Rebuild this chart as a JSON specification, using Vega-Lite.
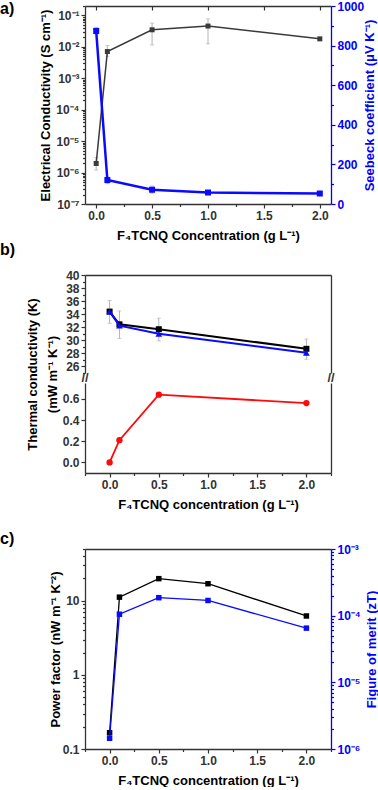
{
  "$schema": "https://vega.github.io/schema/vega-lite/v6.json",
  "background": "white",
  "padding": {"left": 0, "top": 0, "right": 0, "bottom": 0},
  "config": {
    "font": "Liberation Sans",
    "view": {"stroke": null},
    "axis": {
      "grid": false,
      "labelFont": "Liberation Sans",
      "labelFontWeight": "bold",
      "labelFontSize": 12,
      "labelColor": "#333333",
      "titleFont": "Liberation Sans",
      "titleFontWeight": "bold",
      "titleFontSize": 13,
      "titleColor": "#000000",
      "domainColor": "#333333",
      "domainWidth": 1.3,
      "tickColor": "#333333",
      "tickWidth": 1.2,
      "tickSize": 4,
      "labelPadding": 2
    },
    "title": {"font": "Liberation Sans", "fontWeight": "bold", "fontSize": 16, "color": "#000000"}
  },
  "datasets": {
    "a": [
      {"conc": 0.0, "sig": 1.95e-6, "sig_lo": 1.2e-6, "sig_hi": 3.0e-6, "S": 874, "S_lo": 858, "S_hi": 892},
      {"conc": 0.1, "sig": 7.1e-3, "sig_lo": 5.0e-3, "sig_hi": 1.1e-2, "S": 121, "S_lo": 103, "S_hi": 135},
      {"conc": 0.5, "sig": 0.035, "sig_lo": 0.0115, "sig_hi": 0.057, "S": 72, "S_lo": 55, "S_hi": 90},
      {"conc": 1.0, "sig": 0.046, "sig_lo": 0.0125, "sig_hi": 0.078, "S": 58, "S_lo": 54, "S_hi": 62},
      {"conc": 2.0, "sig": 0.018, "sig_lo": 0.0165, "sig_hi": 0.0195, "S": 53, "S_lo": 50, "S_hi": 56}
    ],
    "b": [
      {"conc": 0.0, "k_black": 34.4, "k_blue": 34.4, "k_lo": 32.6, "k_hi": 36.1, "red": 0.0},
      {"conc": 0.1, "k_black": 32.45, "k_blue": 32.25, "k_lo": 30.3, "k_hi": 34.5, "red": 0.21},
      {"conc": 0.5, "k_black": 31.7, "k_blue": 31.0, "k_lo": 29.9, "k_hi": 33.4, "red": 0.64},
      {"conc": 2.0, "k_black": 28.7, "k_blue": 28.1, "k_lo": 27.1, "k_hi": 30.2, "red": 0.56}
    ],
    "c": [
      {"conc": 0.0, "PF": 0.166, "zT": 1.45e-6},
      {"conc": 0.1, "PF": 11.2, "zT": 1.05e-4},
      {"conc": 0.5, "PF": 19.9, "zT": 1.86e-4},
      {"conc": 1.0, "PF": 17.0, "zT": 1.69e-4},
      {"conc": 2.0, "PF": 6.24, "zT": 6.5e-5}
    ]
  },
  "spacing": 10,
  "bounds": "flush",
  "vconcat": [
    {
      "width": 246,
      "height": 259,
      "data": {"name": "a"},
      "title": {"text": "a)", "anchor": "start", "frame": "group", "offset": -17, "dx": -85},
      "layer": [
        {
          "mark": {"type": "errorbar", "color": "#b4b4b4", "ticks": {"size": 4}},
          "encoding": {
            "x": {"field": "conc", "type": "quantitative", "scale": {"domain": [-0.1, 2.1], "nice": false, "zero": false}, "axis": null},
            "y": {"field": "sig_lo", "type": "quantitative", "scale": {"type": "log", "domain": [1e-7, 0.2], "nice": false, "range": [198, 0]}, "axis": null},
            "y2": {"field": "sig_hi"}
          }
        },
        {
          "mark": {"type": "line", "color": "#3a3a3a", "strokeWidth": 1.5},
          "encoding": {
            "x": {"field": "conc", "type": "quantitative", "scale": {"domain": [-0.1, 2.1], "nice": false, "zero": false},
              "axis": {"orient": "bottom", "offset": -61, "values": [0, 0.5, 1, 1.5, 2], "format": ".1f", "title": "F₄TCNQ Concentration (g L⁻¹)", "titlePadding": 8}},
            "y": {"field": "sig", "type": "quantitative", "scale": {"type": "log", "domain": [1e-7, 0.2], "nice": false, "range": [198, 0]},
              "axis": {"orient": "left", "values": [1e-7, 1e-6, 1e-5, 1e-4, 1e-3, 1e-2, 1e-1], "tickSize": 4,
                "labelExpr": "'10⁻' + ['⁰','¹','²','³','⁴','⁵','⁶','⁷','⁸','⁹'][round(-log(datum.value)/LN10)]",
                "title": "Electrical Conductivity (S cm⁻¹)", "titlePadding": 3}}
          }
        },
        {
          "mark": {"type": "point", "shape": "square", "filled": true, "color": "#3a3a3a", "size": 25, "opacity": 1},
          "encoding": {
            "x": {"field": "conc", "type": "quantitative", "scale": {"domain": [-0.1, 2.1], "nice": false, "zero": false},
              "axis": {"orient": "bottom", "offset": -61, "values": [0.25, 0.75, 1.25, 1.75], "labels": false, "domain": false, "tickSize": 2.5, "title": null}},
            "y": {"field": "sig", "type": "quantitative", "scale": {"type": "log", "domain": [1e-7, 0.2], "nice": false, "range": [198, 0]},
              "axis": {"orient": "left", "labels": false, "domain": false, "tickSize": 2.5, "title": null,
                "values": [2e-7,3e-7,4e-7,5e-7,6e-7,7e-7,8e-7,9e-7,2e-6,3e-6,4e-6,5e-6,6e-6,7e-6,8e-6,9e-6,2e-5,3e-5,4e-5,5e-5,6e-5,7e-5,8e-5,9e-5,2e-4,3e-4,4e-4,5e-4,6e-4,7e-4,8e-4,9e-4,2e-3,3e-3,4e-3,5e-3,6e-3,7e-3,8e-3,9e-3,2e-2,3e-2,4e-2,5e-2,6e-2,7e-2,8e-2,9e-2,2e-1]}}
          }
        },
        {
          "mark": {"type": "errorbar", "color": "#a8a8e0", "ticks": {"size": 4}},
          "encoding": {
            "x": {"field": "conc", "type": "quantitative", "scale": {"domain": [-0.1, 2.1], "nice": false, "zero": false}, "axis": null},
            "y": {"field": "S_lo", "type": "quantitative", "scale": {"domain": [0, 1000], "nice": false, "range": [198, 0]}, "axis": null},
            "y2": {"field": "S_hi"}
          }
        },
        {
          "mark": {"type": "line", "color": "#0a0aff", "strokeWidth": 2.5},
          "encoding": {
            "x": {"field": "conc", "type": "quantitative", "scale": {"domain": [-0.1, 2.1], "nice": false, "zero": false},
              "axis": {"orient": "top", "values": [0, 0.5, 1, 1.5, 2], "labels": false, "title": null, "tickSize": -4}},
            "y": {"field": "S", "type": "quantitative", "scale": {"domain": [0, 1000], "nice": false, "range": [198, 0]},
              "axis": {"orient": "right", "values": [0, 200, 400, 600, 800, 1000], "format": "d", "title": "Seebeck coefficient (μV K⁻¹)",
                "titleAngle": 270, "titleBaseline": "top", "titlePadding": 0, "labelColor": "#0000ff", "titleColor": "#0000ff", "domainColor": "#0000ff", "tickColor": "#0000ff"}}
          }
        },
        {
          "mark": {"type": "point", "shape": "square", "filled": true, "color": "#0a0aff", "size": 36, "opacity": 1},
          "encoding": {
            "x": {"field": "conc", "type": "quantitative", "scale": {"domain": [-0.1, 2.1], "nice": false, "zero": false}, "axis": null},
            "y": {"field": "S", "type": "quantitative", "scale": {"domain": [0, 1000], "nice": false, "range": [198, 0]},
              "axis": {"orient": "right", "values": [100, 300, 500, 700, 900], "labels": false, "domain": false, "tickSize": 2.5, "title": null, "tickColor": "#0000ff"}}
          }
        }
      ],
      "resolve": {"scale": {"y": "independent"}, "axis": {"x": "independent", "y": "independent"}}
    },
    {
      "width": 246,
      "height": 98,
      "data": {"name": "b"},
      "title": {"text": "b)", "anchor": "start", "frame": "group", "offset": 11, "dx": -85},
      "layer": [
        {
          "mark": {"type": "errorbar", "color": "#b4b4b4", "ticks": {"size": 4}},
          "encoding": {
            "x": {"field": "conc", "type": "quantitative", "scale": {"domain": [-0.25, 2.25], "nice": false, "zero": false}, "axis": null},
            "y": {"field": "k_lo", "type": "quantitative", "scale": {"domain": [25, 40], "nice": false, "zero": false}, "axis": null},
            "y2": {"field": "k_hi"}
          }
        },
        {
          "mark": {"type": "line", "color": "#000000", "strokeWidth": 2},
          "encoding": {
            "x": {"field": "conc", "type": "quantitative", "scale": {"domain": [-0.25, 2.25], "nice": false, "zero": false},
              "axis": {"orient": "top", "values": [0, 0.5, 1, 1.5, 2], "labels": false, "ticks": false, "title": null}},
            "y": {"field": "k_black", "type": "quantitative", "scale": {"domain": [25, 40], "nice": false, "zero": false},
              "axis": {"orient": "left", "values": [26, 28, 30, 32, 34, 36, 38, 40], "format": "d",
                "title": ["Thermal conductivity (K)", "(mW m⁻¹ K⁻¹)"], "titleY": 99, "titlePadding": 6, "titleLineHeight": 20}}
          }
        },
        {
          "mark": {"type": "point", "shape": "square", "filled": true, "color": "#000000", "size": 36, "opacity": 1},
          "encoding": {
            "x": {"field": "conc", "type": "quantitative", "scale": {"domain": [-0.25, 2.25], "nice": false, "zero": false}, "axis": null},
            "y": {"field": "k_black", "type": "quantitative", "scale": {"domain": [25, 40], "nice": false, "zero": false},
              "axis": {"orient": "left", "values": [25, 27, 29, 31, 33, 35, 37, 39], "labels": false, "domain": false, "tickSize": 2.5, "title": null}}
          }
        },
        {
          "mark": {"type": "line", "color": "#0a0aff", "strokeWidth": 2},
          "encoding": {
            "x": {"field": "conc", "type": "quantitative", "scale": {"domain": [-0.25, 2.25], "nice": false, "zero": false}, "axis": null},
            "y": {"field": "k_blue", "type": "quantitative", "scale": {"domain": [25, 40], "nice": false, "zero": false},
              "axis": {"orient": "right", "labels": false, "ticks": false, "title": null}}
          }
        },
        {
          "mark": {"type": "point", "shape": "triangle-up", "filled": true, "color": "#0a0aff", "size": 45, "opacity": 1},
          "encoding": {
            "x": {"field": "conc", "type": "quantitative", "scale": {"domain": [-0.25, 2.25], "nice": false, "zero": false}, "axis": null},
            "y": {"field": "k_blue", "type": "quantitative", "scale": {"domain": [25, 40], "nice": false, "zero": false}, "axis": null}
          }
        },
        {
          "data": {"values": [{"mark": "break"}]},
          "mark": {"type": "text", "text": "//", "fontSize": 13, "fontWeight": "bold", "color": "#333333", "dy": 5},
          "encoding": {
            "x": {"datum": -0.25, "type": "quantitative", "scale": {"domain": [-0.25, 2.25], "nice": false, "zero": false}, "axis": null},
            "y": {"datum": 25, "type": "quantitative", "scale": {"domain": [25, 40], "nice": false, "zero": false}, "axis": null}
          }
        },
        {
          "data": {"values": [{"mark": "break"}]},
          "mark": {"type": "text", "text": "//", "fontSize": 13, "fontWeight": "bold", "color": "#333333", "dy": 5},
          "encoding": {
            "x": {"datum": 2.25, "type": "quantitative", "scale": {"domain": [-0.25, 2.25], "nice": false, "zero": false}, "axis": null},
            "y": {"datum": 25, "type": "quantitative", "scale": {"domain": [25, 40], "nice": false, "zero": false}, "axis": null}
          }
        }
      ],
      "resolve": {"axis": {"x": "independent", "y": "independent"}}
    },
    {
      "width": 246,
      "height": 156,
      "data": {"name": "b"},
      "layer": [
        {
          "mark": {"type": "line", "color": "#ff0a0a", "strokeWidth": 1.8},
          "encoding": {
            "x": {"field": "conc", "type": "quantitative", "scale": {"domain": [-0.25, 2.25], "nice": false, "zero": false},
              "axis": {"orient": "bottom", "offset": -66, "values": [0, 0.5, 1, 1.5, 2], "format": ".1f", "title": "F₄TCNQ concentration (g L⁻¹)", "titlePadding": 8}},
            "y": {"field": "red", "type": "quantitative", "scale": {"domain": [-0.1, 0.75], "nice": false, "zero": false, "range": [90, 0]},
              "axis": {"orient": "left", "values": [0, 0.2, 0.4, 0.6], "format": ".1f", "title": null}}
          }
        },
        {
          "mark": {"type": "point", "shape": "circle", "filled": true, "color": "#ff0a0a", "size": 40, "opacity": 1},
          "encoding": {
            "x": {"field": "conc", "type": "quantitative", "scale": {"domain": [-0.25, 2.25], "nice": false, "zero": false},
              "axis": {"orient": "bottom", "offset": -66, "values": [-0.25, 0.25, 0.75, 1.25, 1.75, 2.25], "labels": false, "domain": false, "tickSize": 2.5, "title": null}},
            "y": {"field": "red", "type": "quantitative", "scale": {"domain": [-0.1, 0.75], "nice": false, "zero": false, "range": [90, 0]},
              "axis": {"orient": "right", "labels": false, "ticks": false, "title": null}}
          }
        }
      ],
      "resolve": {"axis": {"x": "independent", "y": "independent"}}
    },
    {
      "width": 246,
      "height": 200,
      "data": {"name": "c"},
      "title": {"text": "c)", "anchor": "start", "frame": "group", "offset": -4, "dx": -85},
      "layer": [
        {
          "mark": {"type": "line", "color": "#000000", "strokeWidth": 1.3},
          "encoding": {
            "x": {"field": "conc", "type": "quantitative", "scale": {"domain": [-0.25, 2.25], "nice": false, "zero": false},
              "axis": {"orient": "bottom", "values": [0, 0.5, 1, 1.5, 2], "format": ".1f", "title": "F₄TCNQ concentration (g L⁻¹)", "titlePadding": 8}},
            "y": {"field": "PF", "type": "quantitative", "scale": {"type": "log", "domain": [0.1, 50], "nice": false},
              "axis": {"orient": "left", "values": [0.1, 1, 10], "labelExpr": "datum.value < 0.5 ? '0.1' : format(datum.value, 'd')",
                "title": "Power factor (nW m⁻¹ K⁻²)", "titlePadding": 0}}
          }
        },
        {
          "mark": {"type": "point", "shape": "square", "filled": true, "color": "#000000", "size": 30, "opacity": 1},
          "encoding": {
            "x": {"field": "conc", "type": "quantitative", "scale": {"domain": [-0.25, 2.25], "nice": false, "zero": false},
              "axis": {"orient": "bottom", "values": [-0.25, 0.25, 0.75, 1.25, 1.75, 2.25], "labels": false, "domain": false, "tickSize": 2.5, "title": null}},
            "y": {"field": "PF", "type": "quantitative", "scale": {"type": "log", "domain": [0.1, 50], "nice": false},
              "axis": {"orient": "left", "labels": false, "domain": false, "tickSize": 2.5, "title": null,
                "values": [0.2, 0.3, 0.4, 0.5, 0.6, 0.7, 0.8, 0.9, 2, 3, 4, 5, 6, 7, 8, 9, 20, 30, 40, 50]}}
          }
        },
        {
          "mark": {"type": "line", "color": "#0a0aff", "strokeWidth": 1.3},
          "encoding": {
            "x": {"field": "conc", "type": "quantitative", "scale": {"domain": [-0.25, 2.25], "nice": false, "zero": false},
              "axis": {"orient": "top", "values": [0, 0.5, 1, 1.5, 2], "labels": false, "ticks": false, "title": null}},
            "y": {"field": "zT", "type": "quantitative", "scale": {"type": "log", "domain": [1e-6, 1e-3], "nice": false},
              "axis": {"orient": "right", "values": [1e-6, 1e-5, 1e-4, 1e-3],
                "labelExpr": "'10⁻' + ['⁰','¹','²','³','⁴','⁵','⁶','⁷','⁸','⁹'][round(-log(datum.value)/LN10)]",
                "title": "Figure of merit (zT)", "titleAngle": 270, "titleBaseline": "top", "titlePadding": 5,
                "labelColor": "#0000ff", "titleColor": "#0000ff", "domainColor": "#0000ff", "tickColor": "#0000ff"}}
          }
        },
        {
          "mark": {"type": "point", "shape": "square", "filled": true, "color": "#0a0aff", "size": 30, "opacity": 1},
          "encoding": {
            "x": {"field": "conc", "type": "quantitative", "scale": {"domain": [-0.25, 2.25], "nice": false, "zero": false}, "axis": null},
            "y": {"field": "zT", "type": "quantitative", "scale": {"type": "log", "domain": [1e-6, 1e-3], "nice": false},
              "axis": {"orient": "right", "labels": false, "domain": false, "tickSize": 2.5, "title": null, "tickColor": "#0000ff",
                "values": [2e-6,3e-6,4e-6,5e-6,6e-6,7e-6,8e-6,9e-6,2e-5,3e-5,4e-5,5e-5,6e-5,7e-5,8e-5,9e-5,2e-4,3e-4,4e-4,5e-4,6e-4,7e-4,8e-4,9e-4]}}
          }
        }
      ],
      "resolve": {"scale": {"y": "independent"}, "axis": {"x": "independent", "y": "independent"}}
    }
  ]
}
